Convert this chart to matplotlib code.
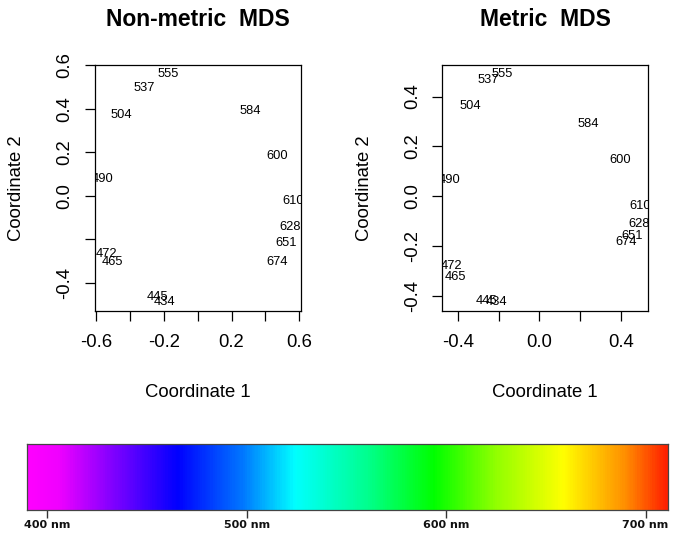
import numpy as np
import matplotlib
matplotlib.use('Agg')
import matplotlib.pyplot as plt
from matplotlib.colors import LinearSegmentedColormap

plt.rcParams['font.family'] = ['Liberation Sans', 'DejaVu Sans']

# wavelength labels (nm) and the two 2-D configurations
labels = ['434', '445', '465', '472', '490', '504', '537', '555',
          '584', '600', '610', '628', '651', '674']

nmds_x = [-0.193, -0.238, -0.504, -0.537, -0.561, -0.448, -0.317, -0.173,
          0.313, 0.470, 0.565, 0.545, 0.520, 0.472]
nmds_y = [-0.487, -0.466, -0.303, -0.267, 0.077, 0.372, 0.495, 0.560,
          0.391, 0.184, -0.023, -0.144, -0.215, -0.303]

mds_x = [-0.210, -0.259, -0.411, -0.434, -0.4395, -0.338, -0.251, -0.180,
         0.241, 0.397, 0.4985, 0.490, 0.454, 0.425]
mds_y = [-0.423, -0.420, -0.323, -0.280, 0.065, 0.363, 0.467, 0.490,
         0.291, 0.144, -0.037, -0.112, -0.157, -0.183]

# spectrum strip
spec_nm = [390, 405, 430, 465, 498, 524, 560, 594, 625, 659, 690, 711]
spec_colors = ['#ff00ff', '#f000ff', '#8a00ff', '#0000ff', '#0078ff', '#00ffff',
               '#00ff90', '#00ff00', '#90ff00', '#ffff00', '#ff9000', '#ff2000']
spec_ticks = [400, 500, 600, 700]

fig = plt.figure(figsize=(6.81, 5.34), dpi=100)


def r_limits(v):
    lo, hi = min(v), max(v)
    pad = 0.04 * (hi - lo)
    return lo - pad, hi + pad


def mds_panel(rect, xs, ys, title, xticks, xlabs, yticks, ylabs):
    ax = fig.add_axes(rect)
    ax.set_xlim(*r_limits(xs))
    ax.set_ylim(*r_limits(ys))
    for lab, x, y in zip(labels, xs, ys):
        ax.text(x, y, lab, fontsize=9.3, ha='center', va='center', clip_on=True)
    ax.set_xticks(xticks)
    ax.set_xticklabels(xlabs)
    ax.set_yticks(yticks)
    ax.set_yticklabels(ylabs, rotation=90, va='center')
    ax.tick_params(direction='out', length=7.5, width=0.9, labelsize=13.3)
    ax.tick_params(axis='x', pad=9)
    ax.tick_params(axis='y', pad=8)
    for s in ax.spines.values():
        s.set_linewidth(0.9)
    ax.set_xlabel('Coordinate 1', fontsize=13.3, va='center')
    ax.xaxis.set_label_coords(0.5, -0.333)
    ax.set_ylabel('Coordinate 2', fontsize=13.3, va='center')
    ax.yaxis.set_label_coords(-0.38, 0.5)
    ax.text(0.5, 1.183, title, transform=ax.transAxes, ha='center', va='center',
            fontsize=16.5, fontweight='bold')
    return ax


mds_panel([0.1395, 0.4176, 0.3025, 0.4607], nmds_x, nmds_y, 'Non-metric  MDS',
          [-0.6, -0.4, -0.2, 0.0, 0.2, 0.4, 0.6],
          ['-0.6', '', '-0.2', '', '0.2', '', '0.6'],
          [-0.4, -0.2, 0.0, 0.2, 0.4, 0.6],
          ['-0.4', '', '0.0', '0.2', '0.4', '0.6'])

mds_panel([0.6495, 0.4176, 0.3025, 0.4607], mds_x, mds_y, 'Metric  MDS',
          [-0.4, -0.2, 0.0, 0.2, 0.4],
          ['-0.4', '', '0.0', '', '0.4'],
          [-0.4, -0.2, 0.0, 0.2, 0.4],
          ['-0.4', '-0.2', '0.0', '0.2', '0.4'])

# visible spectrum bar
lo, hi = spec_nm[0], spec_nm[-1]
cmap = LinearSegmentedColormap.from_list(
    'spectrum', [((w - lo) / (hi - lo), c) for w, c in zip(spec_nm, spec_colors)])
cax = fig.add_axes([0.0402, 0.0449, 0.940, 0.1236])
grad = np.linspace(lo, hi, 600).reshape(1, -1)
cax.imshow(grad, cmap=cmap, aspect='auto', extent=[lo, hi, 0, 1])
cax.set_xlim(lo, hi)
cax.set_yticks([])
cax.set_xticks(spec_ticks)
cax.set_xticklabels([f'{t} nm' for t in spec_ticks], fontsize=8.0,
                    fontweight='bold', family=['DejaVu Sans'])
cax.tick_params(axis='x', direction='out', length=6, width=1.0, pad=1.5, colors='#333333')
cax.tick_params(axis='x', labelcolor='#111111')
for s in cax.spines.values():
    s.set_linewidth(0.9)
    s.set_color('#444444')

fig.savefig('out.png', dpi=100)
